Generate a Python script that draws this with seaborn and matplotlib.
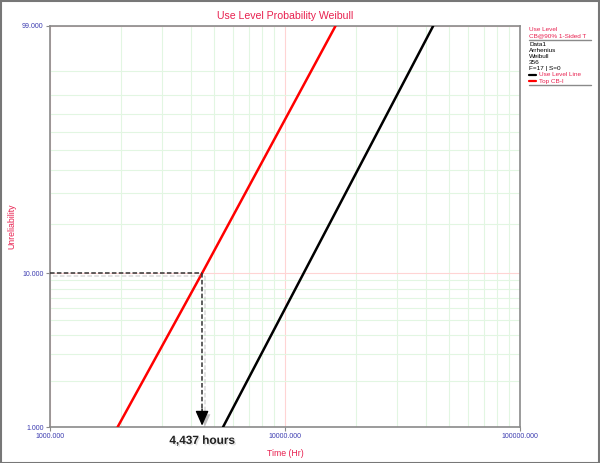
import numpy as np
import pandas as pd
import matplotlib
matplotlib.use("Agg")
import matplotlib.pyplot as plt
import matplotlib.patheffects as pe
from matplotlib.lines import Line2D
from matplotlib.patches import Rectangle
import seaborn as sns

# values (time in hours, unreliability in %)
use_level_time = [5450, 42700]
use_level_unrel = [1, 99]
top_cb_time = [1940, 4437, 16400]
top_cb_unrel = [1, 10, 99]
b10_time = 4437
b10_unrel = 10

x_ticks = [1000, 10000, 100000]
y_ticks = [1, 10, 99]
x_minor = [2000, 3000, 4000, 5000, 6000, 7000, 8000, 9000,
           20000, 30000, 40000, 50000, 60000, 70000, 80000, 90000]
y_minor = [2, 3, 4, 5, 6, 7, 8, 9, 20, 30, 40, 50, 60, 70, 80, 90]

legend_head = ["Use Level", "CB@90% 1-Sided T"]
legend_info = ["Data1", "Arrhenius", "Weibull", "356", "F=17 | S=0"]
legend_items = [("Use Level Line", "black"), ("Top CB-I", "red")]

CRIMSON = "#e8204f"
BLUE = "#3b3bb0"
GRAY = "#8a8a8a"

sns.set_theme(style="white")
plt.rcParams["font.family"] = ["Liberation Sans", "DejaVu Sans"]


def weibull_fwd(F):
    F = np.clip(np.asarray(F, dtype=float), 1e-6, 100 - 1e-6)
    return np.log(-np.log(1 - F / 100.0))


def weibull_inv(W):
    return 100.0 * (1 - np.exp(-np.exp(np.asarray(W, dtype=float))))


fig = plt.figure(figsize=(6, 4.63), dpi=100)
ax = fig.add_axes([50 / 600, (463 - 427) / 463, 470 / 600, 401 / 463])

ax.set_xscale("log")
ax.set_yscale("function", functions=(weibull_fwd, weibull_inv))

df_use = pd.DataFrame({"time": use_level_time, "unrel": use_level_unrel})
df_cb = pd.DataFrame({"time": top_cb_time, "unrel": top_cb_unrel})
sns.lineplot(data=df_use, x="time", y="unrel", ax=ax, color="black", lw=1.8, zorder=4)
sns.lineplot(data=df_cb, x="time", y="unrel", ax=ax, color="red", lw=1.8, zorder=4)

ax.set_xlim(1000, 100000)
ax.set_ylim(1, 99)

ax.set_xticks(x_ticks)
ax.set_xticks(x_minor, minor=True)
ax.set_yticks(y_ticks)
ax.set_yticks(y_minor, minor=True)
ax.set_xticklabels(["%.3f" % v for v in x_ticks])
ax.set_yticklabels(["%.3f" % v for v in y_ticks])
ax.tick_params(which="major", length=3, width=0.8, color=GRAY, labelsize=5,
               labelcolor=BLUE, pad=1.5, bottom=True, left=True)
ax.tick_params(which="minor", length=0)

ax.grid(which="minor", color="#e2f6e2", lw=0.8, zorder=0)
ax.grid(which="major", color="#ffd4d4", lw=0.8, zorder=0)

for s in ax.spines.values():
    s.set_color(GRAY)
    s.set_linewidth(1.2)

ax.set_xlabel("Time (Hr)", color=CRIMSON, fontsize=6.3, labelpad=6)
ax.set_ylabel("Unreliability", color=CRIMSON, fontsize=6.3, labelpad=4)
ax.set_title("Use Level Probability Weibull", color=CRIMSON, fontsize=7.6, pad=5)

# B10 life guide lines
shadow = [pe.SimpleLineShadow(offset=(2, -2), shadow_color="gray", alpha=0.3), pe.Normal()]
ax.plot([1000, b10_time], [b10_unrel, b10_unrel], color="#333333", ls=(0, (3, 1.5)),
        lw=1.1, zorder=5, path_effects=shadow)
ax.plot([b10_time, b10_time], [b10_unrel, 1.3], color="#333333", ls=(0, (3, 1.5)),
        lw=1.1, zorder=5, path_effects=shadow)
ax.annotate("", xy=(b10_time, 1.02), xytext=(0, 12), textcoords="offset points",
            arrowprops=dict(arrowstyle="-|>,head_length=0.9,head_width=0.4",
                            color="black", lw=1, mutation_scale=10, shrinkA=0, shrinkB=0,
                            path_effects=[pe.withSimplePatchShadow(offset=(2, -2), alpha=0.25)]),
            zorder=6)
ax.annotate("4,437 hours", xy=(b10_time, 1), xytext=(0, -10), textcoords="offset points",
            ha="center", va="center", fontsize=8.5, fontweight="bold", color="#222222",
            annotation_clip=False,
            path_effects=[pe.withSimplePatchShadow(offset=(1, -1), shadow_rgbFace="#999999",
                                                   alpha=0.3)])

# side legend panel
W, H = 600, 463


def fy(py):
    return 1 - py / H


x0 = 529 / W
fig.text(x0, fy(29.3), legend_head[0], color=CRIMSON, fontsize=4.6, va="center")
fig.text(x0, fy(35.5), legend_head[1], color=CRIMSON, fontsize=4.6, va="center")
fig.add_artist(Line2D([x0, 591 / W], [fy(39.5)] * 2, color=GRAY, lw=1))
for i, t in enumerate(legend_info):
    fig.text(x0, fy(44 + 6.1 * i), t, color="black", fontsize=4.6, va="center")
for i, (t, c) in enumerate(legend_items):
    yy = fy(75 + 6 * i)
    fig.add_artist(Line2D([x0, 536 / W], [yy, yy], color=c, lw=1.6))
    fig.text(539 / W, yy, t, color=CRIMSON, fontsize=4.6, va="center")
fig.add_artist(Line2D([x0, 591 / W], [fy(84.5)] * 2, color=GRAY, lw=1))

fig.add_artist(Rectangle((0.5 / W, 0.5 / H), 1 - 1.5 / W, 1 - 1.5 / H, transform=fig.transFigure,
                         fill=False, edgecolor="#777777", lw=1.5))

fig.savefig("out.png", dpi=100)
